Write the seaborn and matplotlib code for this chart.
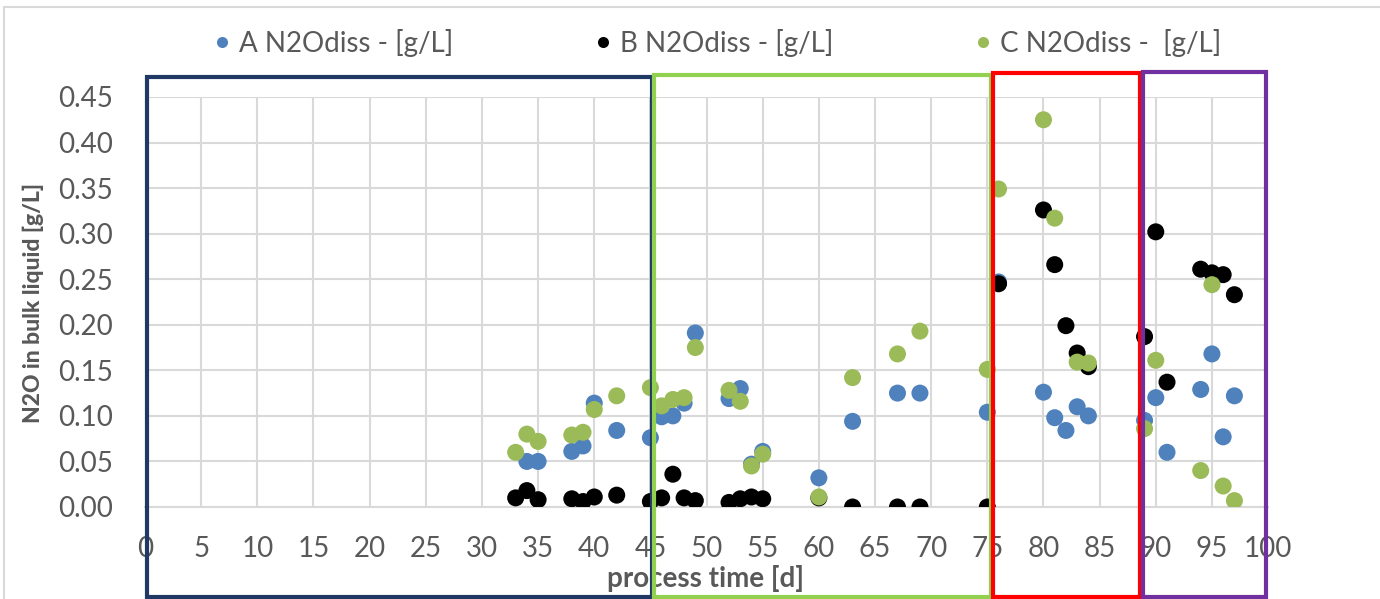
import numpy as np
import pandas as pd
import matplotlib
matplotlib.use('Agg')
import matplotlib.pyplot as plt
import matplotlib.transforms as mtransforms
from matplotlib.patches import Rectangle
import seaborn as sns

# process days and dissolved N2O per reactor (NaN = no sample)
days = [33, 34, 35, 38, 39, 40, 42, 45, 46, 47, 48, 49, 52, 53, 54, 55,
        60, 63, 67, 69, 75, 76, 80, 81, 82, 83, 84, 89, 90, 91, 94, 95, 96, 97]

n2o_a = [np.nan, 0.050, 0.050, 0.061, 0.067, 0.114, 0.084, 0.076, 0.099, 0.100,
         0.114, 0.191, 0.119, 0.130, 0.047, 0.061, 0.032, 0.094, 0.125, 0.125,
         0.104, 0.247, 0.126, 0.098, 0.084, 0.110, 0.100, 0.095, 0.120, 0.060,
         0.129, 0.168, 0.077, 0.122]

n2o_b = [0.010, 0.018, 0.008, 0.009, 0.006, 0.011, 0.013, 0.006, 0.010, 0.036,
         0.010, 0.007, 0.005, 0.009, 0.011, 0.009, 0.010, 0.000, 0.000, 0.000,
         0.000, 0.245, 0.326, 0.266, 0.199, 0.169, 0.154, 0.187, 0.302, 0.137,
         0.261, 0.257, 0.255, 0.233]

n2o_c = [0.060, 0.080, 0.072, 0.079, 0.082, 0.107, 0.122, 0.131, 0.111, 0.118,
         0.120, 0.175, 0.128, 0.116, 0.045, 0.058, 0.011, 0.142, 0.168, 0.193,
         0.151, 0.349, 0.425, 0.317, np.nan, 0.159, 0.158, 0.086, 0.161, np.nan,
         0.040, 0.244, 0.023, 0.007]

labels = ['A N2Odiss - [g/L]', 'B N2Odiss - [g/L]', 'C N2Odiss -  [g/L]']
colors = ['#4F81BD', '#000000', '#9BBB59']

# operating phases (start, end in days) and frame colour
phase_start = [0.2, 45.3, 75.5, 88.9]
phase_end = [45.1, 75.3, 88.6, 99.8]
phase_color = ['#203864', '#92D050', '#FF0000', '#7030A0']

df = pd.DataFrame({'day': days, labels[0]: n2o_a, labels[1]: n2o_b, labels[2]: n2o_c})
long = df.melt(id_vars='day', var_name='series', value_name='n2o').dropna()

sns.set_style('white')
plt.rcParams['font.family'] = ['Lato', 'DejaVu Sans']

fig = plt.figure(figsize=(13.8, 5.99), dpi=100)
ax = fig.add_axes([0.1051, 0.1536, 0.8138, 0.6845])

sns.scatterplot(data=long, x='day', y='n2o', hue='series', hue_order=labels,
                palette=colors, s=150, linewidth=0, ax=ax, zorder=3)

ax.set_xlim(0, 100)
ax.set_ylim(0, 0.45)
ax.set_xticks(np.arange(0, 101, 5))
ax.set_yticks(np.arange(0, 0.451, 0.05))
ax.set_yticklabels([f'{v:.2f}' for v in np.arange(0, 0.451, 0.05)])
ax.grid(True, color='#D9D9D9', linewidth=1.5)
ax.set_axisbelow(True)
for side in ['top', 'right', 'left']:
    ax.spines[side].set_visible(False)
ax.spines['bottom'].set_color('#D9D9D9')
ax.spines['bottom'].set_linewidth(1.5)
ax.tick_params(axis='both', length=0, labelsize=20, colors='#595959')
ax.tick_params(axis='x', pad=21)
ax.tick_params(axis='y', pad=23)
ax.set_xlabel('')
ax.set_ylabel('')

fig.text(0.024, 0.494, 'N2O in bulk liquid [g/L]', rotation=90, ha='center', va='center',
         fontsize=16.5, fontweight='black', color='#595959')
fig.text(0.511, 0.035, 'process time [d]', ha='center', va='center',
         fontsize=20, fontweight='bold', color='#595959')

ax.legend(loc='center', bbox_to_anchor=(0.518, 0.928), bbox_transform=fig.transFigure,
          ncol=3, frameon=False, fontsize=20, markerscale=0.65, handletextpad=0.1,
          handlelength=1.0, columnspacing=4.9, labelcolor='#595959')

# phase frames: x in data units, y from above the plot to the figure bottom
trans = mtransforms.blended_transform_factory(ax.transData, fig.transFigure)
tops = [0.872, 0.874, 0.878, 0.880]
for x0, x1, c, t in zip(phase_start, phase_end, phase_color, tops):
    fig.patches.append(Rectangle((x0, 0.004), x1 - x0, t - 0.004, transform=trans,
                                 fill=False, edgecolor=c, linewidth=3, zorder=5))

# chart area border
fig.patches.append(Rectangle((0.003, -0.01), 1.2, 0.999, transform=fig.transFigure,
                             fill=False, edgecolor='#D9D9D9', linewidth=1.5))

fig.savefig('out.png', dpi=100)
